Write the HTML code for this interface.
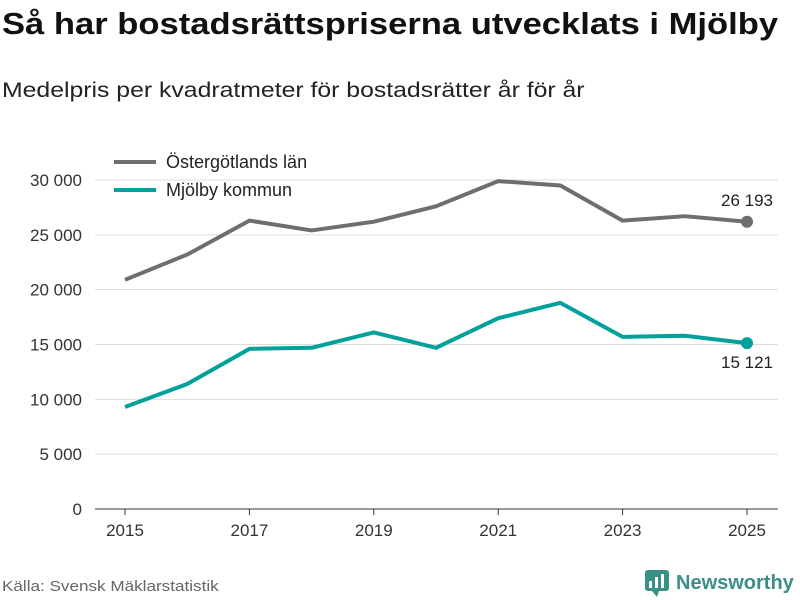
<!DOCTYPE html>
<html><head><meta charset="utf-8">
<style>
body{margin:0;width:800px;height:600px;background:#fff;font-family:"Liberation Sans","DejaVu Sans",sans-serif;overflow:hidden;position:relative}
#title{position:absolute;left:2px;top:6px;font-size:31px;font-weight:bold;color:#111;white-space:nowrap;transform-origin:0 0;transform:scaleX(1.115)}
#sub{position:absolute;left:2px;top:79px;font-size:21px;color:#222;white-space:nowrap;transform-origin:0 0;transform:scaleX(1.18)}
#src{position:absolute;left:2px;top:578px;font-size:15px;color:#666;white-space:nowrap;transform-origin:0 0;transform:scaleX(1.14)}
#logo{position:absolute;left:644px;top:569px;font-size:20px;font-weight:bold;color:#3a8f86;display:flex;align-items:center;gap:6px}
svg{position:absolute;left:0;top:0}
</style></head><body>
<div id="title">Så har bostadsrättspriserna utvecklats i Mjölby</div>
<div id="sub">Medelpris per kvadratmeter för bostadsrätter år för år</div>
<svg id="chart" width="800" height="600"></svg>
<div id="src">Källa: Svensk Mäklarstatistik</div>
<div id="logo"><svg width="26" height="28" style="position:static"><rect x="1" y="1" width="24" height="21" rx="3" fill="#3a8f86"/><polygon points="8,22 13,28 15,22" fill="#3a8f86"/><rect x="5" y="12" width="3" height="7" fill="#fff"/><rect x="11" y="8" width="3" height="11" fill="#fff"/><rect x="17" y="5" width="3" height="14" fill="#fff"/></svg><span>Newsworthy</span></div>
<script>
const years=[2015,2016,2017,2018,2019,2020,2021,2022,2023,2024,2025];
const ostergotland=[20900,23200,26300,25400,26200,27600,29900,29500,26300,26700,26193];
const mjolby=[9300,11400,14600,14700,16100,14700,17400,18800,15700,15800,15121];
const yTicks=[0,5000,10000,15000,20000,25000,30000];
const xTicks=[2015,2017,2019,2021,2023,2025];
const NS="http://www.w3.org/2000/svg";
const svg=document.getElementById('chart');
const x=v=>125+(v-2015)*62.2;
const y=v=>509-v*(329/30000);
const fmt=v=>String(v).replace(/\B(?=(\d{3})+(?!\d))/g," ");
function mk(t,a){const e=document.createElementNS(NS,t);for(const k in a)e.setAttribute(k,a[k]);svg.appendChild(e);return e;}
yTicks.forEach(v=>{
 const l=mk('line',{x1:95,x2:778,y1:y(v),y2:y(v),stroke:v===0?'#333':'#ddd','stroke-width':1});
 
 
 const t=mk('text',{x:82,y:y(v)+6,'text-anchor':'end','font-size':17,fill:'#333'});
 t.textContent=fmt(v);
 
 
});
xTicks.forEach(v=>{
 const l=mk('line',{x1:x(v),x2:x(v),y1:509,y2:515,stroke:'#333'});
 
 
 const t=mk('text',{x:x(v),y:536,'text-anchor':'middle','font-size':17,fill:'#333'});
 t.textContent=v;
 
 
});
function series(vals,color,name,labelDy){
 const p=mk('polyline',{points:vals.map((v,i)=>x(years[i])+','+y(v)).join(' '),fill:'none',stroke:color,'stroke-width':4,'stroke-linejoin':'round'});
 
 
 const n=vals.length-1;
 const c=mk('circle',{cx:x(years[n]),cy:y(vals[n]),r:6,fill:color});
 
 
 const t=mk('text',{x:x(years[n]),y:y(vals[n])+labelDy,'text-anchor':'middle','font-size':17,fill:'#222'});
 t.textContent=fmt(vals[n]);
 
 
}
series(ostergotland,'#6e6e70','ostergotland',-16);
series(mjolby,'#00a19a','mjolby',25);
[['Östergötlands län','#6e6e70',162],['Mjölby kommun','#00a19a',190]].forEach(([lab,col,yy])=>{
 const l=mk('line',{x1:114,x2:156,y1:yy,y2:yy,stroke:col,'stroke-width':4});
 
 
 const t=mk('text',{x:166,y:yy+6,'font-size':18,fill:'#222'});
 t.textContent=lab;
 
 
});
</script>
</body></html>
